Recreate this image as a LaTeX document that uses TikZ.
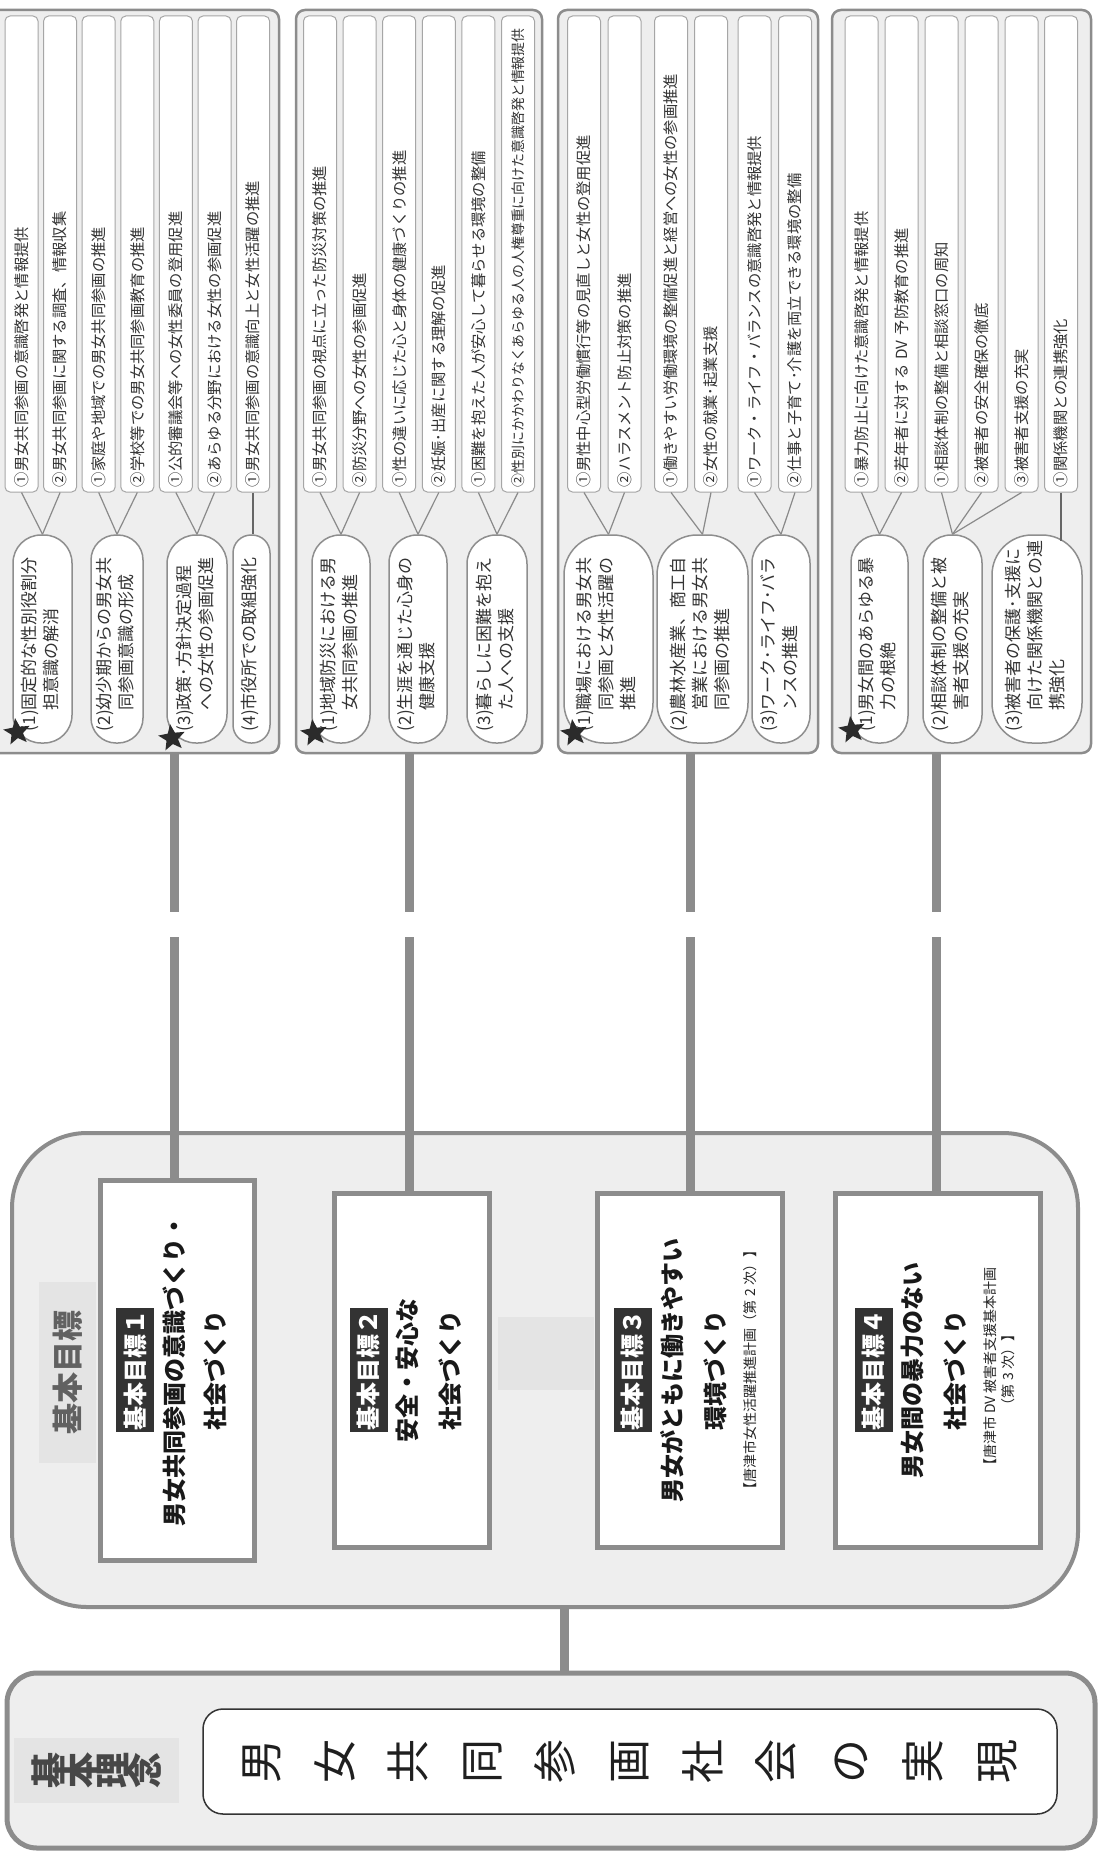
\documentclass[tikz,border=0pt]{standalone}
\usepackage{fontspec}
\setmainfont{Noto Sans CJK JP}
\usetikzlibrary{shapes.geometric}
\definecolor{lineg}{HTML}{8C8C8C}
\definecolor{boxg}{HTML}{EEEEEE}
\definecolor{itemb}{HTML}{A6A6A6}
\definecolor{ovalb}{HTML}{8E8E8E}
\definecolor{linkc}{HTML}{8A8A8A}
\definecolor{txtc}{HTML}{333333}
\definecolor{labbg}{HTML}{333333}
\definecolor{starc}{HTML}{2B2B2B}
\definecolor{faintg}{HTML}{E4E4E4}
\newcommand\ovltxt[2]{\begin{tabular}{@{}l@{}l@{}}#1&#2\end{tabular}}
\begin{document}
\begin{tikzpicture}[x=1pt,y=-1pt,
  grp/.style={rectangle, draw=lineg, line width=2.5pt, fill=boxg, rounded corners=9pt, inner sep=0pt},
  itembox/.style={rectangle, draw=itemb, line width=1pt, fill=white, rounded corners=5pt, rotate=90, minimum width=476pt, minimum height=33pt, text width=466pt, inner xsep=5pt, inner ysep=0pt, align=left, font=\fontsize{15.3}{18}\selectfont, text=txtc},
  ovalbox/.style={rectangle, draw=ovalb, line width=1.5pt, fill=white, rotate=90, minimum width=208pt, text width=184pt, inner xsep=12pt, inner ysep=1pt, align=left, font=\fontsize{17}{22}\selectfont, text=txtc},
  link/.style={draw=linkc, line width=1.2pt},
  vlink/.style={draw=black!60, line width=2pt},
  starmark/.style={star, star points=5, star point ratio=2.3, fill=starc, draw=none, minimum size=28pt, inner sep=0pt, rotate=80},
  conn/.style={draw=lineg, line width=9pt},
  goalbox/.style={rectangle, draw=lineg, line width=5pt, fill=white, inner sep=0pt},
  goallab/.style={rectangle, fill=labbg, text=white, rotate=90, inner xsep=2pt, inner ysep=0pt, minimum width=124pt, minimum height=38pt, font=\fontsize{24}{28}\selectfont\bfseries},
  goalttl/.style={rotate=90, inner sep=0pt, text=black!90, font=\fontsize{24}{28}\selectfont\bfseries},
  goalsub/.style={rotate=90, inner sep=0pt, text=black!85, font=\fontsize{14}{16}\selectfont},
]
\useasboundingbox (0,0) rectangle (1099,1852);
\fill[white] (0,0) rectangle (1099,1852);

% ---------- group containers ----------
\node[grp, minimum width=289pt, minimum height=743pt] (g1) at (134.5,381.5) {};
\node[grp, minimum width=246pt, minimum height=743pt] (g2) at (419,381.5) {};
\node[grp, minimum width=260pt, minimum height=743pt] (g3) at (688,381.5) {};
\node[grp, minimum width=259pt, minimum height=743pt] (g4) at (961.5,381.5) {};

% ---------- items group 1 ----------
\node[itembox] (i11) at (21.5,254) {①男女共同参画の意識啓発と情報提供};
\node[itembox] (i12) at (60.1,254) {②男女共同参画に関する調査、情報収集};
\node[itembox] (i13) at (98.7,254) {①家庭や地域での男女共同参画の推進};
\node[itembox] (i14) at (137.3,254) {②学校等での男女共同参画教育の推進};
\node[itembox] (i15) at (175.9,254) {①公的審議会等への女性委員の登用促進};
\node[itembox] (i16) at (214.5,254) {②あらゆる分野における女性の参画促進};
\node[itembox] (i17) at (253.1,254) {①男女共同参画の意識向上と女性活躍の推進};
% ---------- items group 2 ----------
\node[itembox] (i21) at (320,254) {①男女共同参画の視点に立った防災対策の推進};
\node[itembox] (i22) at (359.6,254) {②防災分野への女性の参画促進};
\node[itembox] (i23) at (399.2,254) {①性の違いに応じた心と身体の健康づくりの推進};
\node[itembox] (i24) at (438.8,254) {②妊娠･出産に関する理解の促進};
\node[itembox] (i25) at (478.4,254) {①困難を抱えた人が安心して暮らせる環境の整備};
\node[itembox, font=\fontsize{13.9}{17}\selectfont] (i26) at (518,254) {②性別にかかわりなくあらゆる人の人権尊重に向けた意識啓発と情報提供};
% ---------- items group 3 ----------
\node[itembox] (i31) at (584,254) {①男性中心型労働慣行等の見直しと女性の登用促進};
\node[itembox] (i32) at (624.5,254) {②ハラスメント防止対策の推進};
\node[itembox] (i33) at (671,254) {①働きやすい労働環境の整備促進と経営への女性の参画推進};
\node[itembox] (i34) at (711,254) {②女性の就業･起業支援};
\node[itembox] (i35) at (754.5,254) {①ワーク・ライフ・バランスの意識啓発と情報提供};
\node[itembox] (i36) at (795,254) {②仕事と子育て･介護を両立できる環境の整備};
% ---------- items group 4 ----------
\node[itembox] (i41) at (861.5,254) {①暴力防止に向けた意識啓発と情報提供};
\node[itembox] (i42) at (901.5,254) {②若年者に対する DV 予防教育の推進};
\node[itembox] (i43) at (941.5,254) {①相談体制の整備と相談窓口の周知};
\node[itembox] (i44) at (981.5,254) {②被害者の安全確保の徹底};
\node[itembox] (i45) at (1021.5,254) {③被害者支援の充実};
\node[itembox] (i46) at (1061,254) {①関係機関との連携強化};

% ---------- ovals ----------
\node[ovalbox, minimum height=59pt, rounded corners=28pt] (e11) at (42.5,639) {\ovltxt{(1)}{固定的な性別役割分\\&担意識の解消}};
\node[ovalbox, minimum height=52pt, rounded corners=25pt] (e12) at (117,639) {\ovltxt{(2)}{幼少期からの男女共\\&同参画意識の形成}};
\node[ovalbox, minimum height=60pt, rounded corners=29pt] (e13) at (197,639) {\ovltxt{(3)}{政策･方針決定過程\\&への女性の参画促進}};
\node[ovalbox, minimum height=37pt, rounded corners=18pt] (e14) at (251.5,639) {\ovltxt{(4)}{市役所での取組強化}};
\node[ovalbox, minimum height=58pt, rounded corners=28pt] (e21) at (341,639) {\ovltxt{(1)}{地域防災における男\\&女共同参画の推進}};
\node[ovalbox, minimum height=58pt, rounded corners=28pt] (e22) at (418,639) {\ovltxt{(2)}{生涯を通じた心身の\\&健康支援}};
\node[ovalbox, minimum height=60pt, rounded corners=29pt] (e23) at (497,639) {\ovltxt{(3)}{暮らしに困難を抱え\\&た人への支援}};
\node[ovalbox, minimum height=89pt, rounded corners=40pt] (e31) at (608.5,639) {\ovltxt{(1)}{職場における男女共\\&同参画と女性活躍の\\&推進}};
\node[ovalbox, minimum height=91pt, rounded corners=40pt] (e32) at (702.5,639) {\ovltxt{(2)}{農林水産業、商工自\\&営業における男女共\\&同参画の推進}};
\node[ovalbox, minimum height=58pt, rounded corners=28pt] (e33) at (781,639) {\ovltxt{(3)}{ワーク･ライフ･バラ\\&ンスの推進}};
\node[ovalbox, minimum height=57pt, rounded corners=27pt] (e41) at (879.5,639) {\ovltxt{(1)}{男女間のあらゆる暴\\&力の根絶}};
\node[ovalbox, minimum height=59pt, rounded corners=28pt] (e42) at (952.5,639) {\ovltxt{(2)}{相談体制の整備と被\\&害者支援の充実}};
\node[ovalbox, minimum height=90pt, rounded corners=40pt] (e43) at (1037,639) {\ovltxt{(3)}{被害者の保護･支援に\\&向けた関係機関との連\\&携強化}};

% ---------- item-to-oval links ----------
\draw[link] (i11.west) -- (e11.east);
\draw[link] (i12.west) -- (e11.east);
\draw[link] (i13.west) -- (e12.east);
\draw[link] (i14.west) -- (e12.east);
\draw[link] (i15.west) -- (e13.east);
\draw[link] (i16.west) -- (e13.east);
\draw[vlink] (i17.west) -- (i17.west |- e14.east);
\draw[link] (i21.west) -- (e21.east);
\draw[link] (i22.west) -- (e21.east);
\draw[link] (i23.west) -- (e22.east);
\draw[link] (i24.west) -- (e22.east);
\draw[link] (i25.west) -- (e23.east);
\draw[link] (i26.west) -- (e23.east);
\draw[link] (i31.west) -- (e31.east);
\draw[link] (i32.west) -- (e31.east);
\draw[link] (i33.west) -- (e32.east);
\draw[link] (i34.west) -- (e32.east);
\draw[link] (i35.west) -- (e33.east);
\draw[link] (i36.west) -- (e33.east);
\draw[link] (i41.west) -- (e41.east);
\draw[link] (i42.west) -- (e41.east);
\draw[link] (i43.west) -- (e42.east);
\draw[link] (i44.west) -- (e42.east);
\draw[link] (i45.west) -- (e42.east);
\coordinate (e43top) at (1061,541);
\draw[vlink] (i46.west) -- (e43top);

% ---------- stars ----------
\node[starmark] (s1) at (17,732) {};
\node[starmark] (s2) at (172,738) {};
\node[starmark] (s3) at (314,733) {};
\node[starmark] (s4) at (574,733) {};
\node[starmark] (s5) at (852,730) {};

% ---------- upper connectors ----------
\coordinate (a1) at (174,912); \coordinate (b1) at (174,937);
\coordinate (a2) at (409,912); \coordinate (b2) at (409,937);
\coordinate (a3) at (690,912); \coordinate (b3) at (690,937);
\coordinate (a4) at (936,912); \coordinate (b4) at (936,937);
\draw[conn] (g1.south -| a1) -- (a1);
\draw[conn] (g2.south -| a2) -- (a2);
\draw[conn] (g3.south -| a3) -- (a3);
\draw[conn] (g4.south -| a4) -- (a4);

% ---------- goals container ----------
\node[rectangle, draw=lineg, line width=4pt, fill=boxg, rounded corners=75pt, inner sep=0pt, minimum width=1066pt, minimum height=474pt] (goals) at (545,1370) {};
\fill[faintg] (498,1317) rectangle (594,1390);
\node[rectangle, fill=faintg, rotate=90, minimum width=181pt, minimum height=57pt, inner sep=0pt, text=black!62, font=\fontsize{31}{36}\selectfont\bfseries] (kmh) at (67.5,1372.5) {基本目標};

\draw[conn] (b1) -- (b1 |- goals.north) -- ++(0,47);
\draw[conn] (b2) -- (b2 |- goals.north) -- ++(0,60);
\draw[conn] (b3) -- (b3 |- goals.north) -- ++(0,60);
\draw[conn] (b4) -- (b4 |- goals.north) -- ++(0,60);

\node[goalbox, minimum width=154pt, minimum height=380pt] (goal1) at (177,1370) {};
\node[goalbox, minimum width=155pt, minimum height=354pt] (goal2) at (411.5,1370) {};
\node[goalbox, minimum width=185pt, minimum height=354pt] (goal3) at (689.5,1370) {};
\node[goalbox, minimum width=205pt, minimum height=354pt] (goal4) at (937.5,1370) {};

\node[goallab] (l1) at (135,1370) {基本目標１};
\node[goalttl] (t1a) at (174,1370) {男女共同参画の意識づくり・};
\node[goalttl] (t1b) at (215,1370) {社会づくり};

\node[goallab] (l2) at (368.5,1370) {基本目標２};
\node[goalttl] (t2a) at (407,1370) {安全・安心な};
\node[goalttl] (t2b) at (450,1370) {社会づくり};

\node[goallab] (l3) at (632.5,1370) {基本目標３};
\node[goalttl] (t3a) at (672,1370) {男女がともに働きやすい};
\node[goalttl] (t3b) at (715,1370) {環境づくり};
\node[goalsub] (t3c) at (750,1370) {【唐津市女性活躍推進計画（第 2 次）】};

\node[goallab] (l4) at (873.5,1370) {基本目標４};
\node[goalttl] (t4a) at (912,1370) {男女間の暴力のない};
\node[goalttl] (t4b) at (955,1370) {社会づくり};
\node[goalsub] (t4c) at (990,1370) {【唐津市 DV 被害者支援基本計画};
\node[goalsub] (t4d) at (1008,1370) {（第 3 次）】};

% ---------- basic philosophy ----------
\node[rectangle, draw=lineg, line width=5pt, fill=boxg, rounded corners=30pt, inner sep=0pt, minimum width=1088pt, minimum height=175pt] (phil) at (551,1760.5) {};
\coordinate (j) at ([xshift=19pt]goals.south);
\draw[conn] (j) -- (j |- phil.north);
\node[rectangle, fill=faintg, rotate=90, minimum width=65pt, minimum height=165pt, inner sep=0pt, align=center, text=black!72, font={\fontsize{36}{32}\selectfont\bfseries\lineskiplimit=-40pt}] (khr) at (96.5,1770.5) {基\\本\\理\\念};
\node[rectangle, draw=black!80, line width=1.5pt, fill=white, rounded corners=20pt, inner sep=0pt, minimum width=854pt, minimum height=105pt] (inner) at (630,1761.5) {};
\node[rotate=90, align=center, inner sep=0pt, text=black!88, font={\fontsize{44}{73.6}\selectfont\lineskiplimit=-40pt}] (vt) at (inner.center) {男\\女\\共\\同\\参\\画\\社\\会\\の\\実\\現};
\end{tikzpicture}
\end{document}
